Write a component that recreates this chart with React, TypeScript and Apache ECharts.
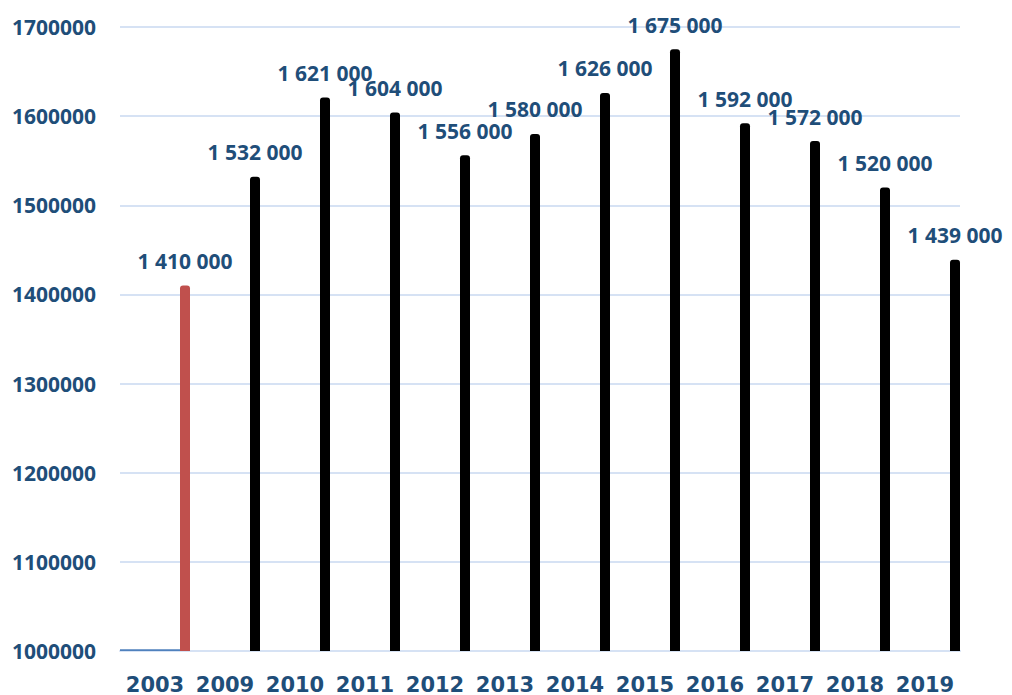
import React, { useEffect, useRef } from "react";
import * as echarts from "echarts";

const categories = ["2003", "2009", "2010", "2011", "2012", "2013", "2014", "2015", "2016", "2017", "2018", "2019"];
const baseSeries: (number | string)[] = [1002000, "-", "-", "-", "-", "-", "-", "-", "-", "-", "-", "-"];
const values = [1410000, 1532000, 1621000, 1604000, 1556000, 1580000, 1626000, 1675000, 1592000, 1572000, 1520000, 1439000];
const barColors = ["#C0504D", "#000000", "#000000", "#000000", "#000000", "#000000", "#000000", "#000000", "#000000", "#000000", "#000000", "#000000"];

const textColor = "#1F4E79";
const gridColor = "#D6E2F4";

function fmt(v: number): string {
  return String(v).replace(/\B(?=(\d{3})+(?!\d))/g, " ");
}

export default function App() {
  const ref = useRef<HTMLDivElement>(null);
  useEffect(() => {
    document.body.style.margin = "0";
    if (!ref.current) return;
    const chart = echarts.init(ref.current, undefined, { renderer: "svg" });
    chart.setOption({
      animation: false,
      backgroundColor: "#ffffff",
      grid: { left: 120, right: 52, top: 27, bottom: 44 },
      xAxis: {
        type: "category",
        data: categories,
        axisLine: { lineStyle: { color: gridColor, width: 2 } },
        axisTick: { show: false },
        axisLabel: {
          interval: 0,
          hideOverlap: false,
          color: textColor,
          fontFamily: "DejaVu Sans",
          fontWeight: "bold",
          fontSize: 21,
          margin: 23,
        },
      },
      yAxis: {
        type: "value",
        min: 1000000,
        max: 1700000,
        interval: 100000,
        axisLine: { show: false },
        axisTick: { show: false },
        splitLine: { lineStyle: { color: gridColor, width: 2 } },
        axisLabel: {
          color: textColor,
          fontFamily: "Open Sans",
          fontWeight: "bold",
          fontSize: 21,
          margin: 24,
          formatter: (v: number) => String(v),
        },
      },
      series: [
        {
          type: "bar",
          data: baseSeries,
          barWidth: 60,
          barGap: "0%",
          itemStyle: { color: "#4F81BD" },
        },
        {
          type: "bar",
          data: values.map((v, i) => ({ value: v, itemStyle: { color: barColors[i] } })),
          barWidth: 10,
          barGap: "0%",
          itemStyle: { borderRadius: [3, 3, 0, 0] },
          label: {
            show: true,
            position: "top",
            distance: 14,
            color: textColor,
            fontFamily: "Open Sans",
            fontWeight: "bold",
            fontSize: 21,
            formatter: (p: any) => fmt(p.value),
          },
        },
      ],
    });
    return () => chart.dispose();
  }, []);
  return <div ref={ref} style={{ width: 1012, height: 695 }} />;
}
